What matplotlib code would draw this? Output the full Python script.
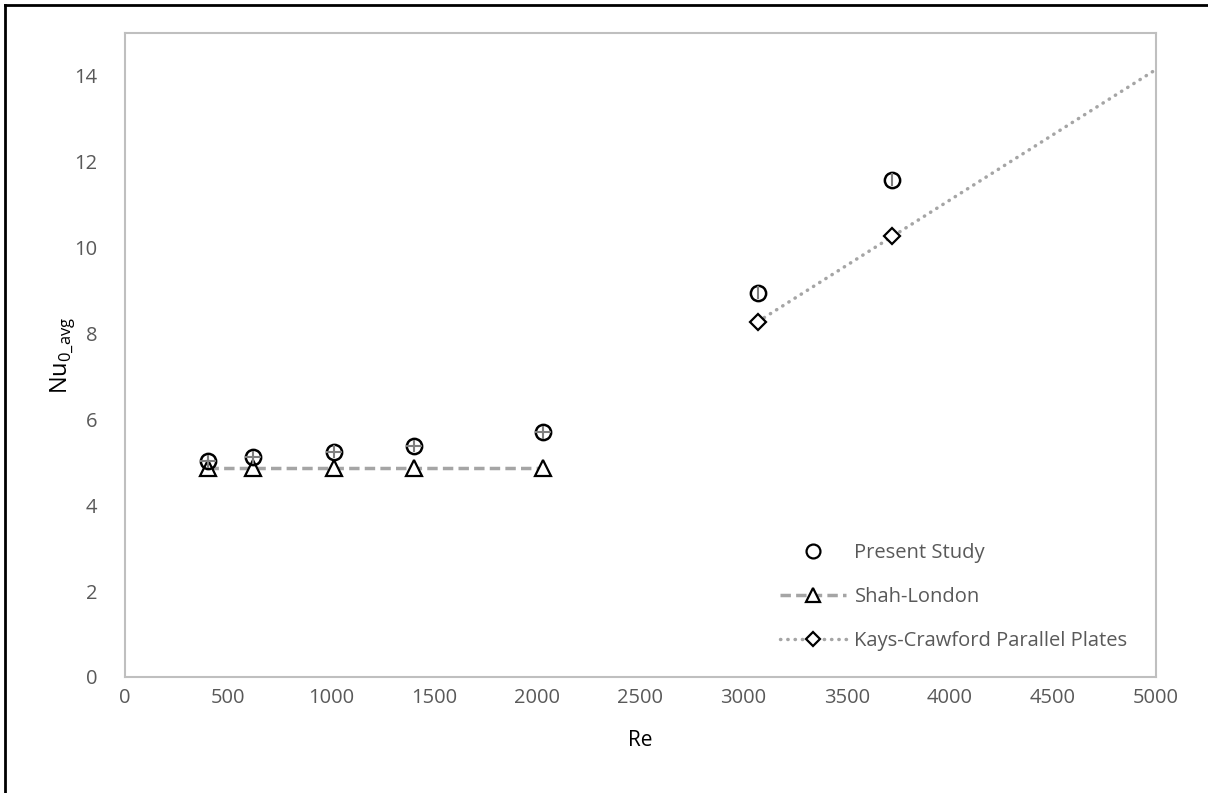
import matplotlib.pyplot as plt
from matplotlib.lines import Line2D

plt.rcParams['font.family'] = ['Open Sans', 'DejaVu Sans']

# Present study (measured)
re_study = [402, 621, 1013, 1401, 2027, 3070, 3720]
nu_study = [5.02, 5.12, 5.25, 5.38, 5.70, 8.95, 11.58]
nu_err = [0.15, 0.15, 0.15, 0.15, 0.15, 0.15, 0.15]
re_err = [40, 40, 40, 40, 40, 0, 0]

# Shah-London fully developed value
re_shah = [402, 621, 1013, 1401, 2027]
nu_shah = [4.86, 4.86, 4.86, 4.86, 4.86]

# Kays-Crawford parallel plates
re_kays = [3070, 3720]
nu_kays = [8.28, 10.28]
re_kays_fit = [3070, 5000]
nu_kays_fit = [8.28, 14.15]

fig = plt.figure(figsize=(12.08, 7.93), dpi=100)
ax = fig.add_axes([125 / 1208, 1 - 677 / 793, (1156 - 125) / 1208, (677 - 33) / 793])

line_grey = '#A5A5A5'
text_grey = '#595959'
dash = (0, (3, 1.5))
dot = (0, (0.1, 2.0))

ax.plot(re_shah, nu_shah, color=line_grey, lw=2.5, ls=dash, zorder=2)
ax.plot(re_kays_fit, nu_kays_fit, color=line_grey, lw=2.5, ls=dot,
        dash_capstyle='round', zorder=2)

ax.plot(re_shah, nu_shah, ls='none', marker='^', ms=11, mfc='white', mec='black', mew=1.6, zorder=3)
ax.plot(re_kays, nu_kays, ls='none', marker='D', ms=8, mfc='white', mec='black', mew=1.6, zorder=3)

ax.errorbar(re_study, nu_study, yerr=nu_err, xerr=re_err, fmt='none', ecolor='#7F7F7F',
            elinewidth=1.5, zorder=5)
ax.plot(re_study, nu_study, ls='none', marker='o', ms=11, mfc='none', mec='black', mew=1.8, zorder=4)

ax.set_xlim(0, 5000)
ax.set_ylim(0, 15)
ax.set_xticks(range(0, 5001, 500))
ax.set_yticks(range(0, 15, 2))
ax.tick_params(length=0, labelsize=14.5, labelcolor=text_grey)
ax.tick_params(axis='x', pad=8)
ax.tick_params(axis='y', pad=20)
for s in ax.spines.values():
    s.set_color('#BFBFBF')
    s.set_linewidth(1.5)

ax.set_xlabel('Re', fontsize=15, labelpad=16)
ax.set_ylabel(r'Nu$_{\mathregular{0\_avg}}$', fontsize=17, labelpad=-2)

handles = [
    Line2D([], [], ls='none', marker='o', ms=10, mfc='none', mec='black', mew=1.6),
    Line2D([], [], color=line_grey, lw=2.5, ls=dash, marker='^', ms=10,
           mfc='white', mec='black', mew=1.6),
    Line2D([], [], color=line_grey, lw=2.5, ls=dot, dash_capstyle='round',
           marker='D', ms=7, mfc='white', mec='black', mew=1.6),
]
labels = ['Present Study', 'Shah-London', 'Kays-Crawford Parallel Plates']
leg = ax.legend(handles, labels, loc='lower right', bbox_to_anchor=(0.99, 0.012), frameon=False,
                fontsize=14.5, handlelength=3.3, labelspacing=1.2, handletextpad=0.4)
for t in leg.get_texts():
    t.set_color(text_grey)

# outer frame
fig.add_artist(plt.Line2D([5 / 1208, 5 / 1208], [0, 1 - 5 / 793], transform=fig.transFigure,
                          color='black', lw=2))
fig.add_artist(plt.Line2D([5 / 1208, 1], [1 - 5 / 793, 1 - 5 / 793], transform=fig.transFigure,
                          color='black', lw=2))

fig.savefig('out.png', dpi=100)
